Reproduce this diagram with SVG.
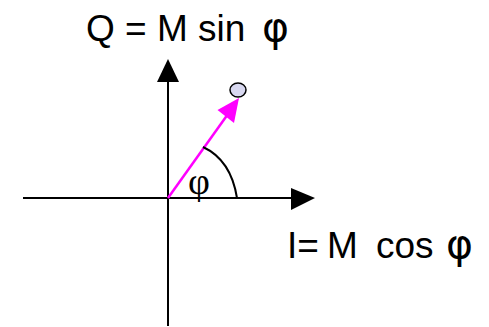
<svg xmlns="http://www.w3.org/2000/svg" width="489" height="327" viewBox="0 0 489 327">
<style>
.ax{stroke:#000;stroke-width:2;fill:none}
.lbl{font-family:"Liberation Sans",Arial,sans-serif;font-size:37px;fill:#000}
.bigphi{font-family:"DejaVu Sans","Liberation Sans",sans-serif;font-size:41px}
.phi{font-family:"Liberation Serif","Times New Roman",serif;font-size:38px;fill:#000}
</style>
<rect width="489" height="327" fill="#fff"/>
<g id="connectors">
<line class="ax" x1="23" y1="198" x2="293" y2="198"/>
<polygon points="315,198 291,188 291,210" fill="#000"/>
<line class="ax" x1="168" y1="326" x2="168" y2="80"/>
<polygon points="168,59 157,82 179,82" fill="#000"/>
<line x1="168" y1="198" x2="228" y2="114" stroke="#FF00FF" stroke-width="2.5"/>
<polygon points="239,98 217.5,110 234,123" fill="#FF00FF"/>
<path class="ax" d="M203,147 Q231,160 237,198"/>
</g>
<g id="point"><ellipse cx="238" cy="90" rx="8" ry="7" fill="#D8D8F0" stroke="#000" stroke-width="1.5"/></g>
<g id="label-q"><text class="lbl" x="86" y="41" font-size="37.5">Q = M sin <tspan class="bigphi" x="262">φ</tspan></text></g>
<g id="label-i"><text class="lbl" x="287" y="258">I= <tspan x="327">M</tspan> <tspan x="376">cos</tspan> <tspan class="bigphi" x="446">φ</tspan></text></g>
<g id="label-phi"><text class="phi" x="188" y="194">φ</text></g>
</svg>
